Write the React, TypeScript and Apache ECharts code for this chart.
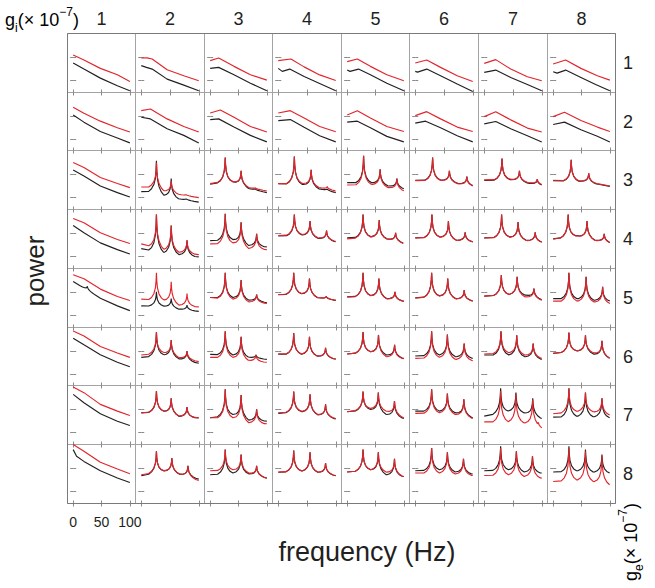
import React, { useEffect, useRef } from "react";
import * as echarts from "echarts";

// ---------- labels & ticks ----------
const G_LABELS = ["1", "2", "3", "4", "5", "6", "7", "8"];
const FREQ_TICKS = [0, 50, 100];
const POWER_TICKS = [11.8, 35.1];
const FREQ_RANGE = [-10, 110];
const POWER_RANGE = [0, 58.7];
// shape of a resonance peak: [offset from peak (Hz), fraction of peak height]
const PEAK_PROFILE = [[0, 1], [0.6, 0.7], [1.8, 0.44], [4.5, 0.22], [8.5, 0.08], [13.5, 0]];

type Curve = { base: number[][]; peaks?: number[][] };

// ---------- data: per row (g_e), 8 columns (g_i); base = [Hz, level], peaks = [Hz, tip level] ----------
const R1_BLACK: Curve[] = [
  { base: [[0, 29.3], [19, 23.3], [48, 14.3], [78, 6.7], [100, 1.7]] },
  { base: [[0, 26.7], [9, 25], [19, 23.3], [45, 13.3], [74, 7.3], [100, 1.7]] },
  { base: [[0, 24], [15, 25], [42, 17.7], [71, 9.3], [100, 1.7]] },
  { base: [[0, 24], [7, 21], [20, 23.3], [45, 16], [72, 9], [100, 1.7]] },
  { base: [[0, 22.3], [5, 21], [20, 23.3], [41, 17.7], [70, 9.3], [100, 1.7]] },
  { base: [[0, 21], [4, 20.3], [20, 23.3], [44, 16.7], [73, 8.5], [100, 1]] },
  { base: [[0, 20], [20, 22.3], [46, 15], [75, 8], [100, 1.7]] },
  { base: [[0, 20.7], [7, 19.3], [22, 22.3], [49, 15], [75, 8], [100, 1.7]] },
];
const R1_RED: Curve[] = [
  { base: [[0, 37.3], [19, 32.3], [48, 24], [78, 17.7], [100, 11]] },
  { base: [[0, 34.3], [10, 34.5], [19, 33.3], [45, 22.7], [74, 16.7], [100, 11.7]] },
  { base: [[0, 31.7], [15, 34.3], [42, 26], [71, 17.7], [100, 12.3]] },
  { base: [[0, 31.7], [22, 33.3], [45, 25.5], [72, 17.5], [100, 12]] },
  { base: [[0, 30.7], [18, 33.3], [41, 26], [70, 17.7], [100, 11.7]] },
  { base: [[0, 29.3], [20, 32.3], [44, 25], [73, 16.7], [100, 11]] },
  { base: [[0, 29], [20, 32.7], [46, 23.3], [75, 15.7], [100, 11.7]] },
  { base: [[0, 28.3], [22, 32.3], [49, 24], [78, 16.7], [100, 12.3]] },
];
const R2_BLACK: Curve[] = [
  { base: [[0, 36], [19, 28.7], [48, 19.3], [78, 12.7], [100, 7.7]] },
  { base: [[0, 33.7], [16, 32], [45, 22], [74, 15.3], [100, 7.7]] },
  { base: [[0, 31.3], [15, 32], [42, 23.7], [71, 15.3], [100, 8.7]] },
  { base: [[0, 30.3], [21, 31.3], [45, 23.5], [72, 15], [100, 8.7]] },
  { base: [[0, 28.7], [18, 29.7], [41, 23], [70, 14.3], [100, 8.7]] },
  { base: [[0, 27.7], [18, 29.7], [44, 23], [73, 15], [100, 8.7]] },
  { base: [[0, 27], [20, 29.3], [46, 22], [75, 15], [100, 8.7]] },
  { base: [[0, 26.3], [20, 28.7], [49, 21], [78, 14.5], [100, 8.7]] },
];
const R2_RED: Curve[] = [
  { base: [[0, 43.7], [19, 37.7], [48, 29.7], [78, 23], [100, 18.7]] },
  { base: [[0, 40.3], [16, 42], [45, 32], [74, 24.3], [100, 18.7]] },
  { base: [[0, 38], [18, 41], [42, 33.7], [71, 24.3], [100, 18.7]] },
  { base: [[0, 38], [21, 40.3], [45, 33], [72, 24.3], [100, 19]] },
  { base: [[0, 36], [18, 40.3], [41, 33], [70, 24.3], [100, 19.3]] },
  { base: [[0, 35.3], [20, 39.3], [44, 32], [73, 23.7], [100, 19.3]] },
  { base: [[0, 34.3], [20, 39.3], [46, 31], [75, 22.7], [100, 18.7]] },
  { base: [[0, 34.3], [20, 38.7], [49, 30.3], [78, 23.7], [100, 19.3]] },
];
const R3_BLACK: Curve[] = [
  { base: [[0, 39.4], [19, 33.4], [48, 23.4], [78, 16.8], [100, 12.4]] },
  { base: [[0, 17.8], [20, 18.2], [39, 14], [65, 10.5], [100, 7.4]], peaks: [[26.4, 48.4], [52.1, 30.8], [78.4, 11]] },
  { base: [[0, 25.1], [13, 26.5], [40.6, 27.5], [67, 21], [100, 16.8]], peaks: [[26.6, 51.8], [54.6, 38.4], [79.7, 20.5]] },
  { base: [[0, 25.8], [42.6, 25], [71.2, 20.5], [100, 16.8]], peaks: [[28, 52.8], [57.2, 39.4], [85.2, 20.8]] },
  { base: [[0, 26.8], [43.6, 26.8], [73, 23.4], [100, 20.5]], peaks: [[29, 53.4], [58.2, 40.1], [87.7, 30.8]] },
  { base: [[0, 29.1], [44.8, 29.4], [74.5, 26], [100, 23.4]], peaks: [[30.2, 51.8], [59.4, 38.4], [89.7, 32.8]] },
  { base: [[0, 29], [46, 29.8], [76.7, 26.2], [100, 23.8]], peaks: [[30.9, 50.8], [61.2, 38.4], [92.2, 30.1]] },
  { base: [[0, 28.7], [50, 28.1], [80, 25.1], [100, 23]], peaks: [[31.8, 49.4], [62.8, 36.1]] },
];
const R3_RED: Curve[] = [
  { base: [[0, 46.8], [19, 41.8], [48, 31.8], [78, 25.8], [100, 21.8]] },
  { base: [[0, 22.4], [20, 22.4], [39, 18.5], [65, 15], [100, 11.8]], peaks: [[26.4, 46.8], [52.1, 28.4], [78.4, 15]] },
  { base: [[0, 25.7], [13, 27], [40.6, 27.8], [67, 22], [100, 18.4]], peaks: [[26.6, 51.8], [54.6, 38.4], [79.7, 21.5]] },
  { base: [[0, 25.8], [42.6, 26], [71.2, 21.8], [100, 18.4]], peaks: [[28, 52.8], [57.2, 39.4], [85.2, 23]] },
  { base: [[0, 24.4], [43.6, 25.1], [73, 21.8], [100, 18.4]], peaks: [[29, 53.4], [58.2, 40.1], [87.7, 30.8]] },
  { base: [[0, 28.8], [44.8, 29], [74.5, 25.6], [100, 23]], peaks: [[30.2, 51.8], [59.4, 38.4], [89.7, 32.8]] },
  { base: [[0, 29.4], [46, 30.2], [76.7, 26.8], [100, 24.4]], peaks: [[30.9, 50.8], [61.2, 38.4], [92.2, 30.1]] },
  { base: [[0, 29.1], [50, 28.5], [80, 25.5], [100, 23.4]], peaks: [[31.8, 49.4], [62.8, 36.1]] },
];
const R4_BLACK: Curve[] = [
  { base: [[0, 42.8], [19, 35.5], [48, 25.5], [78, 18.8], [100, 14.5]] },
  { base: [[0, 19.8], [39.2, 15.5], [65.8, 13.8], [100, 11.5]], peaks: [[26.4, 53.8], [52.1, 42.8], [79.6, 28.1]] },
  { base: [[0, 27.8], [40.6, 28.8], [68.3, 22.8], [100, 21.5]], peaks: [[26.6, 54.5], [54.6, 46.1], [82, 34.5]] },
  { base: [[0, 32.3], [41.6, 33.3], [69.6, 30], [100, 26.6]], peaks: [[28, 53.8], [55.3, 47.1], [84, 37.8]] },
  { base: [[0, 30.5], [42.3, 31.8], [71, 29.5], [100, 25]], peaks: [[28, 53.8], [56.6, 48.1], [85.5, 35.5]] },
  { base: [[0, 30.5], [43.3, 31.5], [72.2, 28.1], [100, 26.5]], peaks: [[29, 53.8], [57.7, 47.1], [86.8, 36.1]] },
  { base: [[0, 30.5], [44.5, 31.5], [73.7, 28.1], [100, 26.1]], peaks: [[30.2, 53.8], [58.8, 46.1], [88.6, 36.1]] },
  { base: [[0, 29.5], [43, 32.8], [75, 28.1], [100, 25.5]], peaks: [[26.5, 53.8], [59.8, 47.1], [90.1, 34.5]] },
];
const R4_RED: Curve[] = [
  { base: [[0, 49.8], [19, 45.5], [48, 35.5], [78, 28.8], [100, 24.8]] },
  { base: [[0, 24.5], [39.2, 18.8], [65.8, 16.1], [100, 13.8]], peaks: [[26.4, 53.8], [52.1, 42.8], [79.6, 28.1]] },
  { base: [[0, 24.5], [40.6, 25.5], [68.3, 19.8], [100, 18.8]], peaks: [[26.6, 54.5], [54.6, 46.1], [82, 34.5]] },
  { base: [[0, 32.8], [41.6, 33.8], [69.6, 30.5], [100, 27.1]], peaks: [[28, 53.8], [55.3, 47.1], [84, 37.8]] },
  { base: [[0, 29.5], [42.3, 31.5], [71, 29.2], [100, 24.8]], peaks: [[28, 53.8], [56.6, 48.1], [85.5, 35.5]] },
  { base: [[0, 30.3], [43.3, 31.3], [72.2, 27.9], [100, 26.3]], peaks: [[29, 53.8], [57.7, 47.1], [86.8, 36.1]] },
  { base: [[0, 30.3], [44.5, 31.3], [73.7, 27.9], [100, 25.9]], peaks: [[30.2, 53.8], [58.8, 46.1], [88.6, 36.1]] },
  { base: [[0, 29.3], [43, 32.6], [75, 27.9], [100, 25.3]], peaks: [[26.5, 53.8], [59.8, 47.1], [90.1, 34.5]] },
];
const R5_BLACK: Curve[] = [
  { base: [[0, 45.8], [19, 39.2], [48, 29.2], [78, 21.5], [100, 16.8]], peaks: [[25, 41]] },
  { base: [[0, 21.5], [39.2, 21.2], [65.8, 18.2], [100, 16.1]], peaks: [[26.4, 35.5], [52.1, 28.8], [79.6, 22.2]] },
  { base: [[0, 29.8], [40.6, 29.8], [68.3, 27.2], [100, 24.8]], peaks: [[26.6, 54.5], [54.6, 47.2], [82, 32.8]] },
  { base: [[0, 32.6], [40.6, 33.6], [69, 29.6], [100, 27]], peaks: [[26.9, 54.5], [54.3, 48.8], [83.5, 31]] },
  { base: [[0, 30.5], [42, 31.8], [70.2, 28.8], [100, 26.2]], peaks: [[28, 54.5], [56, 48.8], [84.3, 35.5]] },
  { base: [[0, 29.5], [42.5, 31.5], [70.8, 28.8], [100, 26.5]], peaks: [[28.5, 54.5], [56.5, 48.8], [85.1, 37.2]] },
  { base: [[0, 31.2], [45, 33], [72, 32.2], [100, 27.5]], peaks: [[29.7, 52.2], [57.2, 50.5], [86.4, 38.8]] },
  { base: [[0, 28.8], [43, 28.8], [72.7, 27.2], [100, 26.2]], peaks: [[27.8, 54.5], [58.1, 50.5], [87.3, 40.5]] },
];
const R5_RED: Curve[] = [
  { base: [[0, 52.5], [19, 48.5], [48, 38.2], [78, 30.8], [100, 26.8]] },
  { base: [[0, 28.2], [39.2, 27.2], [65.8, 22.2], [100, 20.5]], peaks: [[26.4, 54.5], [52.1, 45.5], [79.6, 33.8]] },
  { base: [[0, 29.8], [40.6, 28.2], [68.3, 25.5], [100, 24]], peaks: [[26.6, 54.5], [54.6, 47.2], [82, 32.8]] },
  { base: [[0, 32.8], [40.6, 33.8], [69, 29.8], [100, 27.2]], peaks: [[26.9, 54.5], [54.3, 48.8], [83.5, 31]] },
  { base: [[0, 30.3], [42, 31.6], [70.2, 28.6], [100, 26]], peaks: [[28, 54.5], [56, 48.8], [84.3, 35.5]] },
  { base: [[0, 29.3], [42.5, 31.3], [70.8, 28.6], [100, 26.3]], peaks: [[28.5, 54.5], [56.5, 48.8], [85.1, 37.2]] },
  { base: [[0, 31.2], [45, 33], [72, 30.5], [100, 27.2]], peaks: [[29.7, 52.2], [57.2, 50.5], [86.4, 38.8]] },
  { base: [[0, 26.2], [43, 26.5], [72.7, 25.5], [100, 23.8]], peaks: [[27.8, 54.5], [58.1, 50.5], [87.3, 40.5]] },
];
const R6_BLACK: Curve[] = [
  { base: [[0, 47.9], [19, 41.2], [48, 31.2], [78, 23.5], [100, 18.9]] },
  { base: [[0, 28.5], [39.2, 30.9], [65.8, 26.9], [100, 22.5]], peaks: [[26.4, 54.2], [52.1, 45.9], [79.6, 34.9]] },
  { base: [[0, 31.5], [40.6, 30.9], [67.7, 28.5], [100, 26.5]], peaks: [[26.6, 54.9], [54.6, 49.2], [80.8, 30.9]] },
  { base: [[0, 31.7], [40.6, 31.7], [68.3, 29.7], [100, 26.7]], peaks: [[26.9, 53.2], [54.3, 49.2], [82.3, 38.2]] },
  { base: [[0, 31.9], [41.6, 34.2], [69.5, 30.9], [100, 27.5]], peaks: [[28, 54.2], [55.3, 51.2], [83.7, 41.2]] },
  { base: [[0, 29.9], [42.2, 30.9], [70.5, 29.2], [100, 27.5]], peaks: [[28.5, 54.9], [55.9, 51.5], [85.1, 42.5]] },
  { base: [[0, 30.9], [42.8, 30.9], [70.8, 29.2], [100, 26.5]], peaks: [[29.1, 54.9], [56.5, 50.9], [85.1, 42.5]] },
  { base: [[0, 32.5], [42.4, 35.2], [71.5, 31.9], [100, 27.5]], peaks: [[27.8, 53.5], [57, 50.9], [86.1, 45.2]] },
];
const R6_RED: Curve[] = [
  { base: [[0, 55.2], [19, 50.2], [48, 39.5], [78, 32.9], [100, 28.5]] },
  { base: [[0, 30.9], [39.2, 33.2], [65.8, 28.2], [100, 24.2]], peaks: [[26.4, 54.2], [52.1, 45.9], [79.6, 34.9]] },
  { base: [[0, 28.5], [40.6, 28.5], [67.7, 25.2], [100, 23.5]], peaks: [[26.6, 54.9], [54.6, 49.2], [80.8, 30.9]] },
  { base: [[0, 31.9], [40.6, 31.9], [68.3, 29.9], [100, 26.9]], peaks: [[26.9, 53.2], [54.3, 49.2], [82.3, 38.2]] },
  { base: [[0, 31.9], [41.6, 34.2], [69.5, 29.2], [100, 27.2]], peaks: [[28, 54.2], [55.3, 51.2], [83.7, 41.2]] },
  { base: [[0, 27.5], [42.2, 28.5], [70.5, 26.5], [100, 25.2]], peaks: [[28.5, 54.9], [55.9, 51.5], [85.1, 42.5]] },
  { base: [[0, 31.9], [42.8, 33.2], [70.8, 30.9], [100, 27.5]], peaks: [[29.1, 54.9], [56.5, 50.9], [85.1, 42.5]] },
  { base: [[0, 32.5], [42.4, 35.2], [71.5, 33.2], [100, 27.5]], peaks: [[27.8, 53.5], [57, 50.9], [86.1, 45.2]] },
];
const R7_BLACK: Curve[] = [
  { base: [[0, 49.9], [19, 41.6], [48, 30.6], [78, 23.2], [100, 18.9]] },
  { base: [[0, 31.4], [39.2, 33], [65.8, 28], [100, 26.4]], peaks: [[26.4, 53.2], [52.1, 45.9], [79.6, 37.2]] },
  { base: [[0, 26.6], [40.6, 29.9], [68.3, 24.2], [100, 23.2]], peaks: [[26.6, 54.9], [54.6, 49.2], [82, 34.9]] },
  { base: [[0, 31], [41, 32.8], [68.8, 29.5], [100, 25.5]], peaks: [[26.9, 52.6], [55.3, 49.9], [82.3, 39.9]] },
  { base: [[0, 32.6], [41.5, 34.9], [69.3, 29.9], [100, 26]], peaks: [[28, 52.6], [55, 51.6], [83.5, 43.2]] },
  { base: [[0, 33.2], [42.2, 33.2], [70.2, 31.6], [100, 26.6]], peaks: [[28.5, 54.9], [55.9, 50.6], [84.5, 44.9]] },
  { base: [[0, 28.2], [41.8, 33.2], [69.7, 31.6], [100, 25.9]], peaks: [[28.5, 55.9], [55.1, 51.6], [84.3, 45.9]] },
  { base: [[0, 27.2], [42.4, 28.2], [71.5, 27.6], [100, 26.6]], peaks: [[27.8, 55.9], [57, 51.6], [86.1, 45.9]] },
];
const R7_RED: Curve[] = [
  { base: [[0, 57.2], [19, 51.6], [48, 39.9], [78, 33.2], [100, 28.9]] },
  { base: [[0, 31.6], [39.2, 33.2], [65.8, 28.2], [100, 26.6]], peaks: [[26.4, 53.2], [52.1, 45.9], [79.6, 37.2]] },
  { base: [[0, 26.6], [40.6, 26.6], [68.3, 21.6], [100, 20.6]], peaks: [[26.6, 54.9], [54.6, 49.2], [82, 34.9]] },
  { base: [[0, 31.6], [41, 33.2], [68.8, 29.9], [100, 25.9]], peaks: [[26.9, 52.6], [55.3, 49.9], [82.3, 39.9]] },
  { base: [[0, 32.6], [41.5, 35.9], [69.3, 33.2], [100, 26.6]], peaks: [[28, 52.6], [55, 51.6], [83.5, 43.2]] },
  { base: [[0, 30.9], [42.2, 31.6], [70.2, 29.9], [100, 26]], peaks: [[28.5, 54.9], [55.9, 50.6], [84.5, 44.9]] },
  { base: [[0, 22.5], [41.8, 22.5], [69.7, 21.6], [90, 19], [100, 15.9]], peaks: [[28.5, 53.2], [55.1, 49.9], [84.3, 44.9], [94, 22]] },
  { base: [[0, 30.6], [42.4, 33.2], [71.5, 32.6], [100, 29.2]], peaks: [[27.8, 55.9], [57, 51.6], [86.1, 45.9]] },
];
const R8_BLACK: Curve[] = [
  { base: [[0, 53.6], [6, 47], [19, 41.9], [48, 32.6], [78, 25.3], [100, 20.9]] },
  { base: [[0, 27.6], [39.8, 32.4], [67.2, 29.1], [100, 24.3]], peaks: [[26.4, 51.9], [53.2, 45.3], [81.2, 37.6]] },
  { base: [[0, 28.6], [40.6, 30.3], [68.3, 29.5], [100, 25.3]], peaks: [[26.6, 53.6], [54.6, 48.6], [82, 37.6]] },
  { base: [[0, 31.1], [41, 32.4], [68.8, 31.1], [100, 27.7]], peaks: [[26.9, 52.6], [55.3, 50.9], [82.3, 40.3]] },
  { base: [[0, 31.3], [41.5, 33.6], [69.3, 28.6], [100, 26.9]], peaks: [[28, 53.6], [55, 50.9], [83.5, 44.6]] },
  { base: [[0, 32.6], [42.2, 33.6], [69.9, 31.3], [100, 29.3]], peaks: [[28.5, 55.3], [55.9, 50.9], [83.9, 44.6]] },
  { base: [[0, 32.6], [42.2, 33.6], [69.9, 31.3], [100, 30.3]], peaks: [[28.5, 56.9], [55.9, 51.9], [83.9, 46.9]] },
  { base: [[0, 31.3], [42.4, 32.6], [71.5, 31.3], [100, 30.3]], peaks: [[27.8, 56.9], [57, 53.6], [86.1, 48.6]] },
];
const R8_RED: Curve[] = [
  { base: [[0, 58.6], [19, 51.9], [48, 41], [78, 34.3], [100, 29.6]] },
  { base: [[0, 28.6], [39.8, 32.6], [67.2, 29.3], [100, 22.9]], peaks: [[26.4, 51.9], [53.2, 45.3], [81.2, 37.6]] },
  { base: [[0, 32.6], [40.6, 33.6], [68.3, 30.3], [100, 25.3]], peaks: [[26.6, 53.6], [54.6, 48.6], [82, 37.6]] },
  { base: [[0, 31.3], [41, 32.6], [68.8, 31.3], [100, 27.9]], peaks: [[26.9, 52.6], [55.3, 50.9], [82.3, 40.3]] },
  { base: [[0, 31.3], [41.5, 33.6], [69.3, 31.3], [100, 26.9]], peaks: [[28, 53.6], [55, 50.9], [83.5, 44.6]] },
  { base: [[0, 30.3], [42.2, 30.3], [69.9, 29.3], [100, 27.9]], peaks: [[28.5, 55.3], [55.9, 50.9], [83.9, 44.6]] },
  { base: [[0, 27.9], [42.2, 28.6], [69.9, 26.9], [100, 25.3]], peaks: [[28.5, 55.3], [55.9, 51.9], [83.9, 46.9]] },
  { base: [[0, 21.9], [42.4, 23.6], [71.5, 21.9], [100, 18.6]], peaks: [[27.8, 55.3], [57, 51.9], [86.1, 46.9]] },
];

const ROWS_BLACK = [R1_BLACK, R2_BLACK, R3_BLACK, R4_BLACK, R5_BLACK, R6_BLACK, R7_BLACK, R8_BLACK];
const ROWS_RED = [R1_RED, R2_RED, R3_RED, R4_RED, R5_RED, R6_RED, R7_RED, R8_RED];

// ---------- styling / layout ----------
const RED = "#e3242b";
const BLACK = "#231f20";
const TEXT = "#231f20";
const FONT = "'Liberation Sans', Arial, Helvetica, sans-serif";
const GRID_LEFT = 66.7;
const GRID_TOP = 33;
const CELL_W = 68.55;
const CELL_H = 58.7;
const XS = Array.from({ length: 9 }, (_, i) => Math.round(GRID_LEFT + i * CELL_W) + 0.5);
const YS = Array.from({ length: 9 }, (_, i) => Math.round(GRID_TOP + i * CELL_H) + 0.5);

function lerp(pts: number[][], f: number): number {
  if (f <= pts[0][0]) return pts[0][1];
  for (let i = 1; i < pts.length; i++) {
    if (f <= pts[i][0]) {
      const [x0, y0] = pts[i - 1];
      const [x1, y1] = pts[i];
      return y0 + ((y1 - y0) * (f - x0)) / (x1 - x0);
    }
  }
  return pts[pts.length - 1][1];
}

function curveData(c: Curve): number[][] {
  const peaks = c.peaks || [];
  const xs = new Set<number>(c.base.map((p) => p[0]));
  for (const [f0] of peaks) {
    for (const [d] of PEAK_PROFILE) {
      xs.add(+(f0 - d).toFixed(2));
      xs.add(+(f0 + d).toFixed(2));
    }
  }
  const sorted = Array.from(xs).filter((x) => x >= 0 && x <= 100).sort((a, b) => a - b);
  const maxD = PEAK_PROFILE[PEAK_PROFILE.length - 1][0];
  return sorted.map((f) => {
    const b = lerp(c.base, f);
    let add = 0;
    for (const [f0, tip] of peaks) {
      const d = Math.abs(f - f0);
      if (d < maxD) add = Math.max(add, (tip - lerp(c.base, f0)) * lerp(PEAK_PROFILE, d));
    }
    return [f, +(b + add).toFixed(2)];
  });
}

function buildOption() {
  const grid: any[] = [];
  const xAxis: any[] = [];
  const yAxis: any[] = [];
  const series: any[] = [];
  const tickStyle = { color: "#8a8a8a", width: 1 };
  for (let r = 0; r < 8; r++) {
    for (let c = 0; c < 8; c++) {
      const gi = r * 8 + c;
      grid.push({
        left: XS[c],
        top: YS[r],
        width: XS[c + 1] - XS[c],
        height: YS[r + 1] - YS[r],
        show: true,
        borderColor: "#a3a3a3",
        borderWidth: 1,
        backgroundColor: "transparent",
      });
      const showLabels = r === 7 && c === 0;
      for (const pos of ["bottom", "top"]) {
        xAxis.push({
          gridIndex: gi,
          type: "value",
          position: pos,
          min: FREQ_RANGE[0],
          max: FREQ_RANGE[1],
          axisLine: { show: false },
          splitLine: { show: false },
          axisTick: { show: true, inside: true, length: 3, customValues: FREQ_TICKS, lineStyle: tickStyle },
          axisLabel: {
            show: showLabels && pos === "bottom",
            customValues: FREQ_TICKS,
            margin: 11,
            fontSize: 14,
            fontFamily: FONT,
            color: TEXT,
          },
        });
      }
      for (const pos of ["left", "right"]) {
        yAxis.push({
          gridIndex: gi,
          type: "value",
          position: pos,
          min: POWER_RANGE[0],
          max: POWER_RANGE[1],
          axisLine: { show: false },
          splitLine: { show: false },
          axisTick: { show: true, inside: true, length: 3, customValues: POWER_TICKS, lineStyle: tickStyle },
          axisLabel: { show: false },
        });
      }
      const curves: [Curve, string, number][] = [
        [ROWS_BLACK[r][c], BLACK, 2],
        [ROWS_RED[r][c], RED, 3],
      ];
      for (const [cv, color, z] of curves) {
        series.push({
          type: "line",
          xAxisIndex: gi * 2,
          yAxisIndex: gi * 2,
          data: curveData(cv),
          showSymbol: false,
          symbol: "none",
          silent: true,
          z,
          lineStyle: { color, width: 1.15 },
        });
      }
    }
  }

  const rich = (size: number) => ({
    n: { fontSize: size, fontFamily: FONT, color: TEXT, lineHeight: 28, verticalAlign: "middle" },
    s: { fontSize: 12, fontFamily: FONT, color: TEXT, lineHeight: 12, verticalAlign: "bottom" },
    p: { fontSize: 12, fontFamily: FONT, color: TEXT, lineHeight: 12, verticalAlign: "top" },
  });

  const graphic: any[] = [
    {
      type: "rect",
      shape: { x: XS[0], y: YS[0], width: XS[8] - XS[0], height: YS[8] - YS[0] },
      style: { fill: "none", stroke: "#7a7a7a", lineWidth: 1 },
      silent: true,
      z: 10,
    },
    {
      type: "text",
      x: 5,
      y: 20,
      style: {
        text: "{n|g}{s|i}{n|(× 10}{p|−7}{n|)}",
        rich: rich(18),
        align: "left",
        verticalAlign: "middle",
        textAlign: "left",
        textVerticalAlign: "middle",
      },
    },
    {
      type: "text",
      x: 631,
      y: 542,
      rotation: Math.PI / 2,
      style: {
        text: "{n|g}{s|e}{n|(× 10}{p|−7}{n|)}",
        rich: rich(18),
        align: "center",
        verticalAlign: "middle",
        textAlign: "center",
        textVerticalAlign: "middle",
      },
    },
    {
      type: "text",
      x: 35,
      y: 271,
      rotation: Math.PI / 2,
      style: {
        text: "power",
        font: `26px ${FONT}`,
        fill: TEXT,
        align: "center",
        verticalAlign: "middle",
        textAlign: "center",
        textVerticalAlign: "middle",
      },
    },
    {
      type: "text",
      x: 367,
      y: 552,
      style: {
        text: "frequency (Hz)",
        font: `27px ${FONT}`,
        fill: TEXT,
        align: "center",
        verticalAlign: "middle",
        textAlign: "center",
        textVerticalAlign: "middle",
      },
    },
  ];
  for (let i = 0; i < 8; i++) {
    graphic.push({
      type: "text",
      x: (XS[i] + XS[i + 1]) / 2,
      y: 19,
      style: {
        text: G_LABELS[i],
        font: `18px ${FONT}`,
        fill: TEXT,
        align: "center",
        verticalAlign: "middle",
        textAlign: "center",
        textVerticalAlign: "middle",
      },
    });
    graphic.push({
      type: "text",
      x: 628,
      y: (YS[i] + YS[i + 1]) / 2,
      style: {
        text: G_LABELS[i],
        font: `18px ${FONT}`,
        fill: TEXT,
        align: "center",
        verticalAlign: "middle",
        textAlign: "center",
        textVerticalAlign: "middle",
      },
    });
  }

  return {
    animation: false,
    backgroundColor: "#ffffff",
    grid,
    xAxis,
    yAxis,
    series,
    graphic,
  };
}

export default function App() {
  const ref = useRef<HTMLDivElement>(null);
  useEffect(() => {
    if (!ref.current) return;
    const chart = echarts.init(ref.current, null, { renderer: "svg" });
    chart.setOption(buildOption() as any);
    return () => chart.dispose();
  }, []);
  return (
    <div
      ref={ref}
      style={{ position: "fixed", left: 0, top: 0, width: 655, height: 588, background: "#fff" }}
    />
  );
}
